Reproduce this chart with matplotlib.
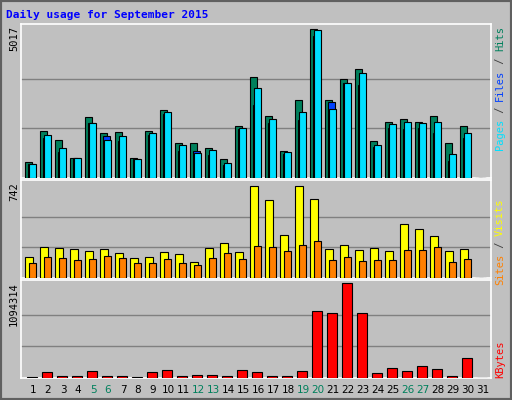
import numpy as np
import matplotlib.pyplot as plt
from matplotlib.patches import Rectangle

days = np.arange(1, 32)
# values (day 31 has no data)
hits = [556, 1572, 1266, 687, 2054, 1521, 1555, 687, 1589, 2304, 1169, 1169, 998, 624, 1770, 3422, 2088, 896, 2633, 5017, 2633, 3354, 3660, 1237, 1900, 1975, 1900, 2088, 1169, 1747, 0]
files = [488, 1339, 862, 658, 1850, 1407, 1237, 624, 1447, 2150, 896, 896, 760, 454, 1646, 2463, 1850, 794, 1952, 4780, 2565, 3219, 3150, 1033, 1680, 1646, 1680, 1510, 590, 1339, 0]
pages = [488, 1441, 1028, 658, 1850, 1271, 1407, 624, 1521, 2224, 1101, 828, 930, 522, 1680, 3042, 1986, 862, 2224, 4983, 2327, 3211, 3552, 1101, 1816, 1884, 1850, 1884, 794, 1509, 0]
visits = [169, 249, 241, 233, 217, 233, 201, 161, 169, 209, 193, 129, 241, 281, 209, 742, 635, 345, 742, 643, 233, 265, 225, 241, 217, 434, 394, 337, 217, 233, 0]
sites = [121, 169, 161, 145, 153, 177, 161, 121, 121, 153, 121, 104, 161, 201, 153, 257, 249, 217, 265, 297, 145, 169, 137, 145, 145, 225, 225, 249, 129, 153, 0]
kbytes = [12000, 63900, 27900, 27900, 75900, 27900, 27900, 12000, 63900, 87900, 27900, 39900, 39900, 27900, 87900, 63900, 27900, 27900, 75900, 770000, 746000, 1094314, 746000, 51900, 111800, 75900, 135800, 99800, 27900, 231700, 0]
weekends = [5, 6, 12, 13, 19, 20, 26, 27]

BG = '#c0c0c0'
W, H = 512, 400
fig = plt.figure(figsize=(W / 100, H / 100), dpi=100, facecolor=BG)
fig.patches.append(Rectangle((0, 0), 1, 1, transform=fig.transFigure, fill=False,
                             edgecolor='#606060', linewidth=3))

def make_ax(top, bottom):
    ax = fig.add_axes([21 / W, 1 - bottom / H, 470 / W, (bottom - top) / H])
    ax.set_facecolor(BG)
    ax.set_xlim(0.2, 31.53)
    ax.set_xticks([])
    ax.set_yticks([])
    for s in ax.spines.values():
        s.set_color('white')
        s.set_linewidth(1.2)
    return ax

def bars(ax, left_off, width, vals, color):
    ax.bar(days + left_off, vals, width=width, align='edge', color=color,
           edgecolor='black', linewidth=0.8, zorder=3)

# top panel
ax1 = make_ax(24, 178)
ax1.set_ylim(0, 5017 * 1.035)
for g in (5017 / 3, 5017 * 2 / 3):
    ax1.axhline(g, color='#808080', linewidth=1, zorder=1)
bars(ax1, -0.51, 0.47, hits, '#00805c')
bars(ax1, -0.33, 0.47, files, '#0040ff')
bars(ax1, -0.25, 0.47, pages, '#00e0ff')

# middle panel
ax2 = make_ax(180, 278)
ax2.set_ylim(0, 742 * 1.07)
for g in (742 / 3, 742 * 2 / 3):
    ax2.axhline(g, color='#808080', linewidth=1, zorder=1)
bars(ax2, -0.51, 0.53, visits, '#ffff00')
bars(ax2, -0.25, 0.47, sites, '#ff8000')

# bottom panel
ax3 = make_ax(280, 378)
ax3.set_ylim(0, 1094314 * 1.03)
for g in (1094314 / 3, 1094314 * 2 / 3):
    ax3.axhline(g, color='#808080', linewidth=1, zorder=1)
bars(ax3, -0.42, 0.67, kbytes, '#ff0000')

for d in days:
    ax3.text(d, -0.12, str(d), transform=ax3.get_xaxis_transform(), ha='center', va='center',
             fontsize=7.5, color='#00805c' if d in weekends else 'black')

fig.text(6 / W, 1 - 15 / H, 'Daily usage for September 2015', color='#0000ff',
         family='DejaVu Sans Mono', weight='bold', fontsize=8, va='center')

mono = 'DejaVu Sans Mono'
for top, label in ((26, '5017'), (182, '742'), (282, '1094314')):
    fig.text(14 / W, 1 - top / H, label, rotation=90, ha='center', va='top', fontsize=7.5, family=mono)

def right_label(top, parts):
    y = 1 - top / H
    for txt, col in parts:
        t = fig.text(500 / W, y, txt, rotation=90, ha='center', va='top', fontsize=7.5,
                     family=mono, color=col)
        y -= len(txt) * 6.2 / H

right_label(26, [('Hits', '#00805c'), (' / ', '#404040'), ('Files', '#0040ff'), (' / ', '#404040'), ('Pages', '#00e0ff')])
right_label(198, [('Visits', '#ffff00'), (' / ', '#404040'), ('Sites', '#ff8000')])
right_label(340, [('KBytes', '#ff0000')])

fig.savefig('out.png', dpi=100, facecolor=BG)
